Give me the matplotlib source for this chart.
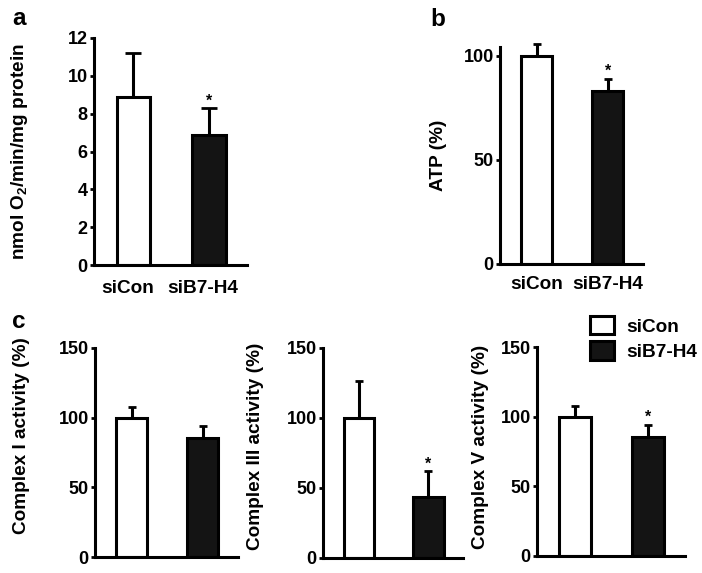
import matplotlib
matplotlib.use("Agg")
import matplotlib.pyplot as plt
import matplotlib.transforms as mtransforms
from matplotlib.patches import Patch

plt.rcParams['font.family'] = ['Liberation Sans', 'DejaVu Sans']
plt.rcParams['font.weight'] = 'bold'
plt.rcParams['mathtext.fontset'] = 'custom'
plt.rcParams['mathtext.rm'] = 'Liberation Sans:bold'
plt.rcParams['mathtext.default'] = 'rm'

groups = ["siCon", "siB7-H4"]
colors = ["white", "#141414"]

# panel a: oxygen consumption
a_vals = [8.9, 6.85]
a_err = [2.3, 1.43]
a_sig = [False, True]
# panel b: ATP
b_vals = [100, 83.3]
b_err = [5.6, 5.7]
b_sig = [False, True]
# panel c: complex activities
c1_vals = [100, 85.4]
c1_err = [7.7, 8.6]
c1_sig = [False, False]
c3_vals = [100, 43.6]
c3_err = [26.4, 18.4]
c3_sig = [False, True]
c5_vals = [100, 85.4]
c5_err = [7.7, 8.6]
c5_sig = [False, True]

W, H = 702, 573
fig = plt.figure(figsize=(W / 100, H / 100), dpi=100)

def add_ax(l, r, b, t):
    return fig.add_axes([l / W, 1 - b / H, (r - l) / W, (b - t) / H])

LW = 2.2
FS = 13
LFS = 13.7

def panel(ax, vals, err, sig, ylim, yticks, ylabel, labx, laby, capsize, xlabels, xpad, xshift=0):
    x = [0, 1]
    ax.bar(x, vals, width=0.44, color=colors, edgecolor='black', linewidth=LW, zorder=2)
    ax.errorbar(x, vals, yerr=[[0, 0], err], fmt='none', ecolor='black',
                elinewidth=LW, capsize=capsize, capthick=2.0, clip_on=False, zorder=3)
    for xi, v, e, s in zip(x, vals, err, sig):
        if s:
            ax.annotate("*", (xi, v + e), xytext=(0, 2), textcoords='offset points',
                        ha='center', va='baseline', fontsize=11.5, fontweight='bold')
    ax.set_xlim(-0.52, 1.5)
    ax.set_ylim(*ylim)
    ax.set_yticks(yticks)
    for sp in ['top', 'right']:
        ax.spines[sp].set_visible(False)
    for sp in ['left', 'bottom']:
        ax.spines[sp].set_linewidth(LW)
    ax.tick_params(axis='y', direction='out', length=3, width=2, pad=1.5, labelsize=FS)
    if xlabels:
        ax.set_xticks(x)
        ax.set_xticklabels(groups, fontsize=LFS, fontweight='bold')
        ax.tick_params(axis='x', length=0, pad=xpad)
        if xshift:
            off = mtransforms.ScaledTranslation(xshift / 100, 0, fig.dpi_scale_trans)
            for lab in ax.get_xticklabels():
                lab.set_transform(lab.get_transform() + off)
    else:
        ax.set_xticks([])
    ax.set_ylabel(ylabel, fontsize=LFS, fontweight='bold')
    ax.yaxis.set_label_coords(labx, laby)

ax_a = add_ax(94, 247, 265, 38)
panel(ax_a, a_vals, a_err, a_sig, (0, 12), [0, 2, 4, 6, 8, 10, 12],
      r"nmol O$_2$/min/mg protein", -0.42, 0.5, 6, True, 10.5, xshift=-6)

ax_b = add_ax(500, 643, 264, 47)
panel(ax_b, b_vals, b_err, b_sig, (0, 104.3), [0, 50, 100],
      "ATP (%)", -0.37, 0.5, 3, True, 8.5)

ax_c1 = add_ax(95, 238, 557, 348)
panel(ax_c1, c1_vals, c1_err, c1_sig, (0, 150), [0, 50, 100, 150],
      "Complex I activity (%)", -0.458, 0.58, 3, False, 0)

ax_c3 = add_ax(323, 463, 558, 348)
panel(ax_c3, c3_vals, c3_err, c3_sig, (0, 150), [0, 50, 100, 150],
      "Complex III activity (%)", -0.42, 0.53, 3, False, 0)

ax_c5 = add_ax(537, 685, 556, 347)
panel(ax_c5, c5_vals, c5_err, c5_sig, (0, 150), [0, 50, 100, 150],
      "Complex V activity (%)", -0.324, 0.524, 3, False, 0)

handles = [Patch(facecolor=c, edgecolor='black', linewidth=LW) for c in colors]
fig.legend(handles, groups, loc='upper left', bbox_to_anchor=(590 / W, 1 - 316 / H),
           frameon=False, handlelength=1.27, handleheight=1.1,
           labelspacing=0.3, handletextpad=0.66, borderpad=0, borderaxespad=0,
           prop={'weight': 'bold', 'size': LFS})

for txt, x, y in [("a", 12, 25), ("b", 430, 26), ("c", 12, 328)]:
    fig.text(x / W, 1 - y / H, txt, fontsize=17.5, fontweight='bold', va='baseline', ha='left')

fig.savefig("out.png", dpi=100)
